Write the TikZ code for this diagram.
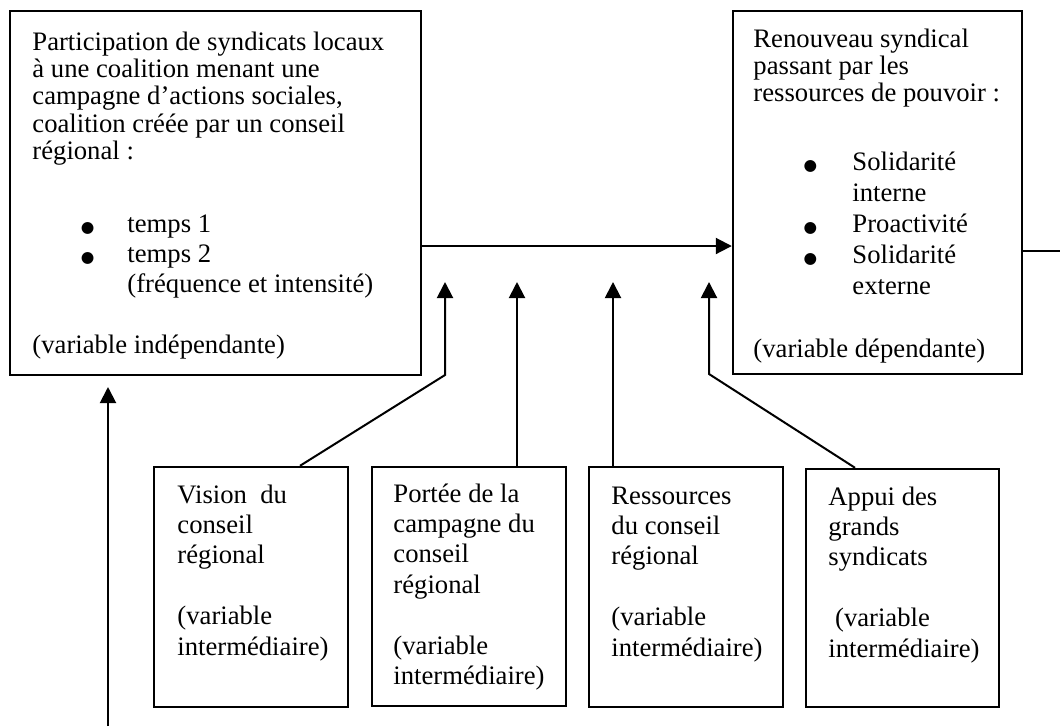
\documentclass[tikz,border=0pt]{standalone}
\usepackage{fontspec}
\setmainfont{Liberation Serif}
\newfontfamily\symfont{DejaVu Sans}
\usetikzlibrary{arrows.meta,fit}

% a block of left-aligned lines whose first baseline is the node's base
\newcommand{\textlines}[2]{\parbox[t]{220pt}{\raggedright
  \fontsize{12pt}{#1}\selectfont
  \setlength{\baselineskip}{#1}\setlength{\lineskiplimit}{-20pt}#2\par}}
% a bullet hanging to the left of the item text
\newcommand{\bul}[1]{\leavevmode\llap{\makebox[#1][l]{{\symfont\fontsize{7pt}{7pt}\selectfont ●}}}}

\tikzset{
  varbox/.style={draw, line width=1.1pt, inner sep=0pt},
  wire/.style={line width=0.9pt},
  arr/.style={wire, -{Triangle[length=7.2pt,width=7.2pt]}},
  txt/.style={anchor=base west, inner sep=0pt, font=\fontsize{12pt}{14pt}\selectfont}
}

\begin{document}
\begin{tikzpicture}[x=0.45pt,y=-0.45pt]
\useasboundingbox (0,0) rectangle (1060,726);

% variable boxes
\node[varbox, fit={(10,11) (421,375)}] (ind) {};
\node[varbox, fit={(733,11) (1022,374)}] (dep) {};
\node[varbox, fit={(154,467) (348,707)}] (vis) {};
\node[varbox, fit={(372,467) (566,706)}] (por) {};
\node[varbox, fit={(589,467) (783,707)}] (res) {};
\node[varbox, fit={(806,469) (999,707)}] (app) {};

% independent variable
\node[txt] (indP) at (32,50) {\textlines{12.3pt}{Participation de syndicats locaux\\
  à une coalition menant une\\ campagne d’actions sociales,\\
  coalition créée par un conseil\\ régional :}};
\node[txt] (indL) at (127,232) {\textlines{13.7pt}{\bul{21pt}temps 1\\
  \bul{21pt}temps 2\\ (fréquence et intensité)}};
\node[txt] (indV) at (32,353) {(variable indépendante)};

% dependent variable
\node[txt] (depP) at (753,47) {\textlines{12.3pt}{Renouveau syndical\\
  passant par les\\ ressources de pouvoir :}};
\node[txt] (depL) at (852,170) {\textlines{14pt}{\bul{22pt}Solidarité\\ interne\\
  \bul{22pt}Proactivité\\ \bul{22pt}Solidarité\\ externe}};
\node[txt] (depV) at (753,357) {(variable dépendante)};

% intermediate variables
\node[txt] (visT) at (177,503) {\textlines{13.7pt}{Vision\ \ du\\ conseil\\
  régional\\[13.7pt] (variable\\ intermédiaire)}};
\node[txt] (porT) at (393,502) {\textlines{13.7pt}{Portée de la\\ campagne du\\
  conseil\\ régional\\[13.7pt] (variable\\ intermédiaire)}};
\node[txt] (resT) at (611,504) {\textlines{13.7pt}{Ressources\\ du conseil\\
  régional\\[13.7pt] (variable\\ intermédiaire)}};
\node[txt] (appT) at (828,505) {\textlines{13.7pt}{Appui des\\ grands\\
  syndicats\\[13.7pt] \ (variable\\ intermédiaire)}};

% connector points
\coordinate (mainY) at (0,246);
\coordinate (exitEnd) at (1060,251);
\coordinate (srcI) at (108,726);
\coordinate (tipI) at (108,387);
\coordinate (v1) at (300,0);
\coordinate (k1) at (445,375);
\coordinate (t1) at (445,282);
\coordinate (t2) at (517,282);
\coordinate (t3) at (613,282);
\coordinate (v4) at (855,0);
\coordinate (k4) at (709,374);
\coordinate (t4) at (709,282);

% connectors
\draw[arr] (ind.east |- mainY) -- (dep.west |- mainY);
\draw[wire] (dep.east |- exitEnd) -- (exitEnd);
\draw[arr] (srcI) -- (tipI);
\draw[arr] (vis.north -| v1) -- (k1) -- (t1);
\draw[arr] (por.north -| t2) -- (t2);
\draw[arr] (res.north -| t3) -- (t3);
\draw[arr] (app.north -| v4) -- (k4) -- (t4);
\end{tikzpicture}
\end{document}
